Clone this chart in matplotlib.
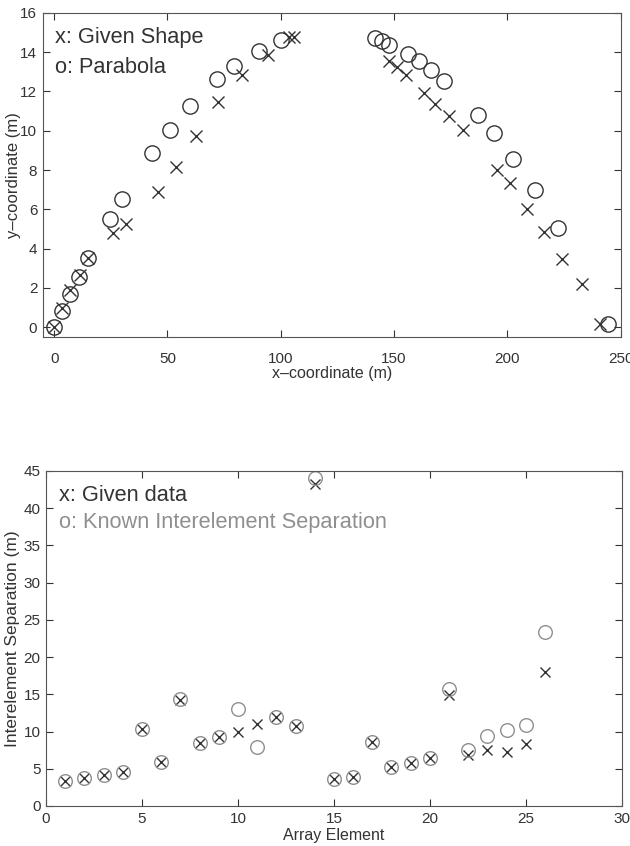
import numpy as np
import matplotlib
matplotlib.use("Agg")
import matplotlib.pyplot as plt

plt.rcParams["font.family"] = ["Liberation Sans", "DejaVu Sans"]

# ---- top: given shape vs parabola ----
shape_x = [0, 3.4, 6.8, 11.5, 15.1, 25.8, 31.7, 45.7, 53.6, 62.8, 72.4, 83.0, 94.4, 103.8, 106.0,
           147.6, 151.2, 155.1, 163.4, 168.3, 174.2, 180.3, 195.4, 201.3, 208.9, 216.0, 224.1, 233.2, 241.0]
shape_y = [0, 0.97, 1.87, 2.67, 3.5, 4.79, 5.26, 6.88, 8.18, 9.71, 11.48, 12.84, 13.87, 14.75, 14.75,
           13.53, 13.23, 12.85, 11.92, 11.38, 10.76, 10.05, 8.01, 7.33, 6.03, 4.82, 3.46, 2.21, 0.17]

para_x = [0, 3.4, 6.8, 11.0, 15.1, 24.7, 30.1, 43.3, 51.1, 59.9, 72.0, 79.4, 90.2, 100.3,
          141.4, 144.8, 148.0, 156.1, 160.9, 166.4, 172.2, 187.2, 194.0, 202.6, 212.2, 222.2, 244.6]
para_y = [0, 0.8, 1.68, 2.55, 3.5, 5.5, 6.55, 8.86, 10.05, 11.24, 12.63, 13.3, 14.07, 14.62,
          14.72, 14.55, 14.38, 13.9, 13.53, 13.1, 12.55, 10.81, 9.9, 8.56, 6.96, 5.03, 0.17]

# ---- bottom: interelement separation ----
element = list(range(1, 27))
given_sep = [3.4, 3.76, 4.2, 4.6, 10.3, 5.96, 14.24, 8.5, 9.22, 9.99, 10.97, 12.0, 10.75, 43.26,
             3.58, 3.94, 8.64, 5.19, 5.73, 6.49, 14.91, 6.85, 7.52, 7.21, 8.33, 17.96]
known_sep = [3.4, 3.76, 4.2, 4.6, 10.3, 5.96, 14.33, 8.5, 9.3, 13.03, 7.97, 12.0, 10.75, 44.1,
             3.58, 3.94, 8.64, 5.19, 5.8, 6.49, 15.67, 7.52, 9.4, 10.2, 10.93, 23.4]

dark = "#333333"
grey = "#8f8f8f"

fig = plt.figure(figsize=(6.3, 8.46), dpi=100)
ax1 = fig.add_axes([0.068, 0.6017, 0.917, 0.383])
ax2 = fig.add_axes([0.073, 0.0473, 0.914, 0.396])

ax1.plot(shape_x, shape_y, "x", color=dark, ms=8, mew=1.0)
ax1.plot(para_x, para_y, "o", mfc="none", mec=dark, ms=11, mew=1.0)
ax1.set_xlim(-5, 250)
ax1.set_ylim(-0.5, 16)
ax1.set_xticks(np.arange(0, 251, 50))
ax1.set_yticks(np.arange(0, 17, 2))
ax1.set_xlabel("x\u2013coordinate (m)", fontsize=11.5, color=dark, va="center")
ax1.set_ylabel("y\u2013coordinate (m)", fontsize=12, color=dark, va="center")
ax1.xaxis.set_label_coords(0.5, -0.114)
ax1.yaxis.set_label_coords(-0.05, 0.5)
ax1.text(0.021, 0.923, "x: Given Shape", transform=ax1.transAxes, fontsize=15.7, color=dark, va="center")
ax1.text(0.021, 0.833, "o: Parabola", transform=ax1.transAxes, fontsize=15.7, color=dark, va="center")

ax2.plot(element, given_sep, "x", color=dark, ms=7.5, mew=1.0)
ax2.plot(element, known_sep, "o", mfc="none", mec=grey, ms=9.8, mew=1.0)
ax2.set_xlim(0, 30)
ax2.set_ylim(0, 45)
ax2.set_xticks(np.arange(0, 31, 5))
ax2.set_yticks(np.arange(0, 46, 5))
ax2.set_xlabel("Array Element", fontsize=11.5, color=dark, va="center")
ax2.set_ylabel("Interelement Separation (m)", fontsize=12.5, color=dark, va="center")
ax2.xaxis.set_label_coords(0.5, -0.088)
ax2.yaxis.set_label_coords(-0.059, 0.5)
ax2.text(0.0226, 0.928, "x: Given data", transform=ax2.transAxes, fontsize=15.7, color=dark, va="center")
ax2.text(0.0226, 0.845, "o: Known Interelement Separation", transform=ax2.transAxes, fontsize=15.7,
         color=grey, va="center")

for ax in (ax1, ax2):
    ax.tick_params(direction="in", top=True, right=True, labelsize=11, colors=dark,
                   length=5, width=0.8, pad=4)
    for s in ax.spines.values():
        s.set_color("#555555")
        s.set_linewidth(0.8)
ax1.tick_params(axis="x", pad=11)

fig.savefig("out.png", dpi=100)
